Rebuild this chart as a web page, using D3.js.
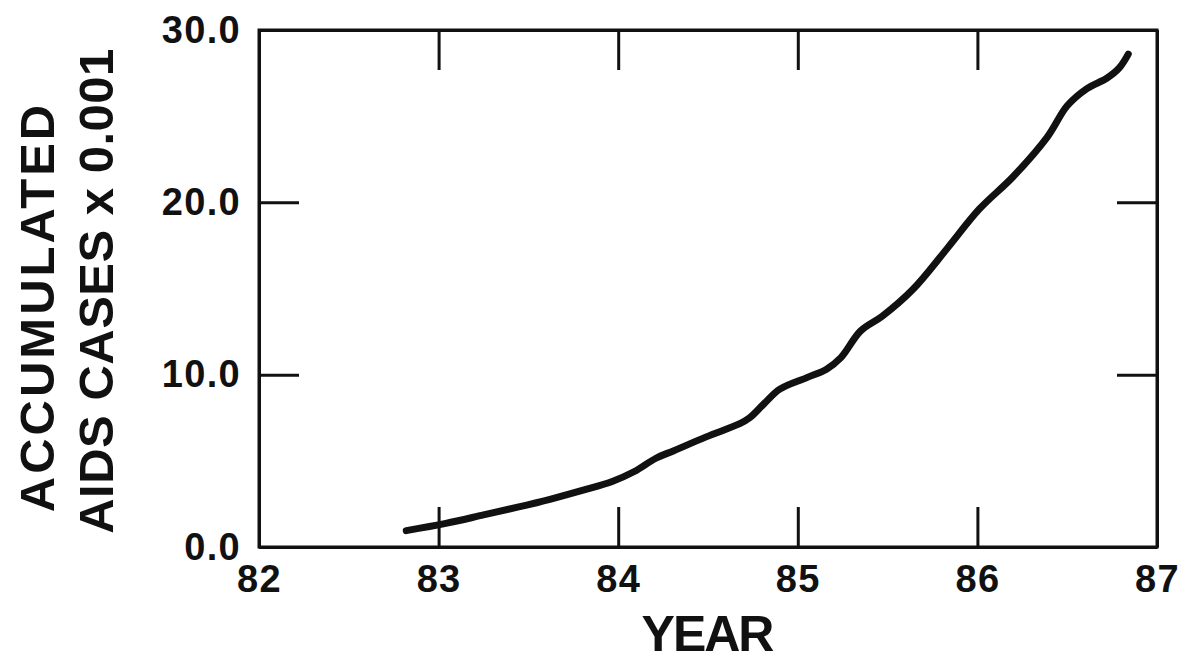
<!DOCTYPE html>
<html>
<head>
<meta charset="utf-8">
<script src="https://cdn.jsdelivr.net/npm/d3@7"></script>
<style>
  html, body { margin: 0; padding: 0; background: #fff; }
  text { font-family: "Liberation Sans", Arial, sans-serif; font-weight: bold; fill: #111; }
</style>
</head>
<body>
<main></main>
<script>
let svgWidth  = 1191;
let svgHeight = 662;

// cumulative AIDS cases (thousands)
const years = [82.82, 83.04, 83.25, 83.44, 83.62, 83.81, 83.97, 84.09, 84.21, 84.31,
               84.49, 84.68, 84.73, 84.81, 84.90, 85.05, 85.16, 85.24, 85.35, 85.47,
               85.64, 85.83, 86.01, 86.20, 86.39, 86.50, 86.61, 86.72, 86.79, 86.84];
const cases = [0.95, 1.37, 1.86, 2.31, 2.77, 3.31, 3.82, 4.38, 5.15, 5.59,
               6.39, 7.17, 7.48, 8.29, 9.16, 9.83, 10.32, 10.99, 12.54, 13.39,
               14.94, 17.3, 19.6, 21.5, 23.8, 25.6, 26.6, 27.2, 27.8, 28.6];

const xTicks = [82, 83, 84, 85, 86, 87];
const yTicks = [0, 10, 20, 30];

const yTitle1 = 'ACCUMULATED';
const yTitle2 = 'AIDS CASES x 0.001';
const xTitle  = 'YEAR';

let plotLeft = 259, plotRight = 1157, plotTop = 30, plotBottom = 547;
let tickLen = 40;

var svg = d3.select('body main')
  .append('svg')
    .attr('width', svgWidth)
    .attr('height', svgHeight)
    .style('display', 'block')
;

svg.append('rect')
  .attr('width', svgWidth).attr('height', svgHeight)
  .attr('fill', '#fff');

let x = d3.scaleLinear().domain([82, 87]).range([plotLeft, plotRight]);
let y = d3.scaleLinear().domain([0, 30]).range([plotBottom, plotTop]);

function styleAxis(g, fontSize) {
  g.select('.domain').attr('stroke', '#111').attr('stroke-width', 3);
  g.selectAll('.tick line').attr('stroke', '#111').attr('stroke-width', 3);
  g.selectAll('.tick text')
    .attr('font-size', fontSize)
    .attr('letter-spacing', 1.3)
    .attr('fill', '#111')
    .attr('font-family', '"Liberation Sans", Arial, sans-serif')
    .attr('font-weight', 'bold');
}

// bottom axis with labels
svg.append('g')
  .attr('transform', 'translate(0,' + plotBottom + ')')
  .call(d3.axisBottom(x).tickValues(xTicks).tickFormat(d3.format('d'))
    .tickSizeInner(-tickLen).tickSizeOuter(0).tickPadding(18))
  .call(g => styleAxis(g, 38));

// top axis, ticks only
svg.append('g')
  .attr('transform', 'translate(0,' + plotTop + ')')
  .call(d3.axisTop(x).tickValues(xTicks).tickFormat('')
    .tickSizeInner(-tickLen).tickSizeOuter(0))
  .call(g => styleAxis(g, 38));

// left axis with labels
svg.append('g')
  .attr('transform', 'translate(' + plotLeft + ',0)')
  .call(d3.axisLeft(y).tickValues(yTicks).tickFormat(d3.format('.1f'))
    .tickSizeInner(-tickLen).tickSizeOuter(0).tickPadding(18))
  .call(g => styleAxis(g, 38));

// right axis, ticks only
svg.append('g')
  .attr('transform', 'translate(' + plotRight + ',0)')
  .call(d3.axisRight(y).tickValues(yTicks).tickFormat('')
    .tickSizeInner(-tickLen).tickSizeOuter(0))
  .call(g => styleAxis(g, 38));

// frame corners
svg.append('rect')
  .attr('x', plotLeft).attr('y', plotTop)
  .attr('width', plotRight - plotLeft).attr('height', plotBottom - plotTop)
  .attr('fill', 'none').attr('stroke', '#111').attr('stroke-width', 3);

// the curve
let pts = years.map((d, i) => [d, cases[i]]);
let line = d3.line()
  .x(d => x(d[0]))
  .y(d => y(d[1]))
  .curve(d3.curveCatmullRom.alpha(0.5));

svg.append('path')
  .datum(pts)
  .attr('d', line)
  .attr('fill', 'none')
  .attr('stroke', '#111')
  .attr('stroke-width', 7)
  .attr('stroke-linecap', 'round')
  .attr('stroke-linejoin', 'round');

// titles
svg.append('text')
  .attr('transform', 'translate(54,307) rotate(-90)')
  .attr('text-anchor', 'middle')
  .attr('font-size', 49)
  .attr('letter-spacing', 3)
  .text(yTitle1);

svg.append('text')
  .attr('transform', 'translate(113,291) rotate(-90)')
  .attr('text-anchor', 'middle')
  .attr('font-size', 49)
  .attr('letter-spacing', 0.5)
  .text(yTitle2);

svg.append('text')
  .attr('x', 707).attr('y', 651)
  .attr('text-anchor', 'middle')
  .attr('font-size', 50)
  .attr('letter-spacing', -2)
  .text(xTitle);
</script>
</body>
</html>
